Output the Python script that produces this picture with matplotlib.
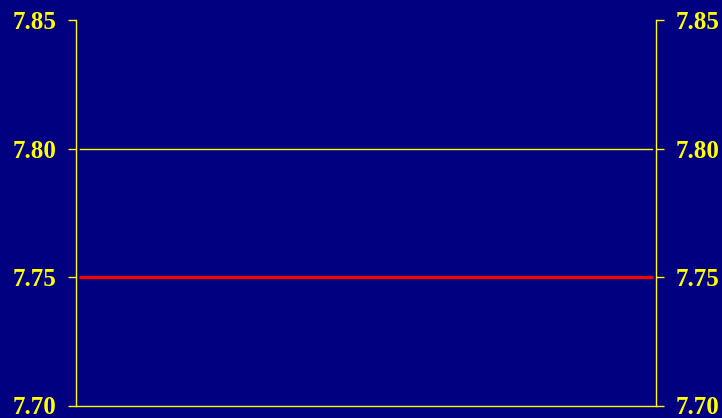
import matplotlib.pyplot as plt

# data
x_vals = [0, 1]
y_vals = [7.75, 7.75]
y_ticks = [7.70, 7.75, 7.80, 7.85]
grid_level = 7.80

bg = '#000080'
fg = '#ffff00'

fig = plt.figure(figsize=(7.22, 4.18), dpi=100, facecolor=bg)
ax = fig.add_axes([76 / 722, 12.5 / 418, 580 / 722, 385.5 / 418])
ax.set_facecolor(bg)

ax.plot(x_vals, y_vals, color='#ff0000', lw=2.3, solid_capstyle='butt')
ax.axhline(grid_level, xmin=0.007, xmax=0.993, color=fg, lw=1)

ax.set_xlim(-0.0052, 1.0052)
ax.set_ylim(7.70, 7.85)
ax.set_xticks([])
ax.set_yticks(y_ticks)
ax.set_yticklabels(['%.2f' % v for v in y_ticks])

for side in ['left', 'right', 'bottom']:
    ax.spines[side].set_color(fg)
    ax.spines[side].set_linewidth(1)
ax.spines['top'].set_visible(False)

ax.tick_params(axis='y', which='both', left=True, right=True, labelleft=True, labelright=True,
               color=fg, labelcolor=fg, length=5.5, width=1, pad=8.5, direction='out')
for lab in ax.get_yticklabels():
    lab.set_fontfamily(['Liberation Serif', 'DejaVu Serif'])
    lab.set_fontweight('bold')
    lab.set_fontsize(18)

fig.savefig('out.png', dpi=100, facecolor=bg)
